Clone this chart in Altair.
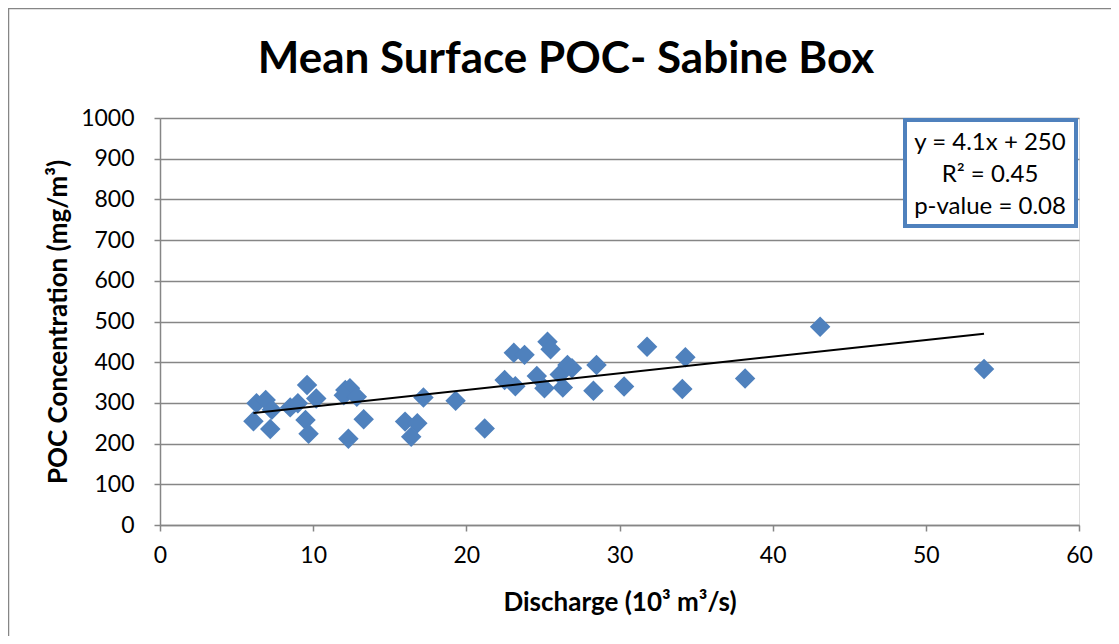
import altair as alt
import pandas as pd

# Data
discharge = [6.1, 6.3, 6.9, 7.3, 7.2, 8.5, 9.0, 9.6, 10.2, 9.5, 9.7, 12.1, 12.4, 12.0,
             12.85, 13.3, 12.3, 16.0, 16.8, 16.4, 17.2, 19.3, 21.2, 22.5, 23.2, 23.1,
             23.8, 25.3, 25.5, 24.6, 25.1, 26.1, 26.6, 26.9, 26.3, 28.5, 28.3, 30.3,
             31.8, 34.3, 34.1, 38.2, 43.1, 53.8]
poc = [255, 299, 307, 283, 236, 289, 299, 344, 311, 258, 224, 332, 336, 319,
       315, 260, 212, 254, 250, 217, 313, 305, 237, 356, 341, 423,
       418, 450, 432, 366, 336, 370, 393, 385, 338, 393, 330, 340,
       438, 412, 334, 360, 487, 383]

trend_x = [6.1, 53.8]
trend_y = [275, 470]

stats_lines = ["y = 4.1x + 250", "R² = 0.45", "p-value = 0.08"]
title_text = "Mean Surface POC- Sabine Box"

FONT = "Lato"
W, H = 919, 407

pts = pd.DataFrame({"x": discharge, "y": poc})
trend = pd.DataFrame({"x": trend_x, "y": trend_y})
one = pd.DataFrame({"a": [0]})

xscale = alt.Scale(domain=[0, 60], nice=False)
yscale = alt.Scale(domain=[0, 1000], nice=False)

xaxis = alt.Axis(values=list(range(0, 61, 10)), grid=False, title="Discharge (10³ m³/s)",
                 titleFont=FONT, titleFontSize=26, titleFontWeight="bold", titleColor="black",
                 labelFont=FONT, labelFontSize=23, labelColor="black", labelPadding=13,
                 labelFlush=False,
                 domainColor="#868686", domainWidth=1.5, tickColor="#868686", tickWidth=1.5,
                 tickSize=6, titlePadding=22)
yaxis = alt.Axis(values=list(range(0, 1001, 100)), format="d", grid=True, gridColor="#868686",
                 gridWidth=1.5, title="POC Concentration (mg/m³)", labelFlush=False,
                 titleFont=FONT, titleFontSize=26, titleFontWeight="bold", titleColor="black",
                 labelFont=FONT, labelFontSize=23, labelColor="black", labelPadding=20,
                 domainColor="#868686", domainWidth=1.5, tickColor="#868686", tickWidth=1.5,
                 tickSize=6, titlePadding=9)

points = alt.Chart(pts).mark_point(shape="diamond", filled=True, size=420, opacity=1,
                                   color="#4F81BD").encode(
    x=alt.X("x:Q", scale=xscale, axis=xaxis),
    y=alt.Y("y:Q", scale=yscale, axis=yaxis),
)

line = alt.Chart(trend).mark_line(color="black", strokeWidth=2).encode(
    x=alt.X("x:Q", scale=xscale),
    y=alt.Y("y:Q", scale=yscale),
)

box = alt.Chart(one).mark_rect(
    fill="white", stroke="#4F81BD", strokeWidth=4
).encode(x=alt.value(745), x2=alt.value(916), y=alt.value(2), y2=alt.value(108))

txt = alt.Chart(one).mark_text(font=FONT, fontSize=24, color="black", align="center",
                               baseline="middle", lineBreak="\n", lineHeight=32).encode(
    x=alt.value(830),
    y=alt.value(25),
    text=alt.value("\n".join(stats_lines)),
)

title = alt.Chart(one).mark_text(font=FONT, fontSize=44, fontWeight="bold", color="black",
                                 align="center", baseline="alphabetic").encode(
    x=alt.value(406), y=alt.value(-45), text=alt.value(title_text)
)

frame = alt.Chart(one).mark_rect(
    fill=None, stroke="#868686", strokeWidth=1.5
).encode(x=alt.value(-151.5), x2=alt.value(W + 60), y=alt.value(-109.5), y2=alt.value(H + 150))

chart = alt.layer(frame, points, line, box, txt, title).properties(
    width=W, height=H,
    padding={"left": 152, "top": 110, "right": 32, "bottom": 111},
    autosize=alt.AutoSizeParams(type="none"),
).configure_view(stroke=None).configure(background="white")

chart.save("out.html", embed_options={"renderer": "svg", "actions": False})
